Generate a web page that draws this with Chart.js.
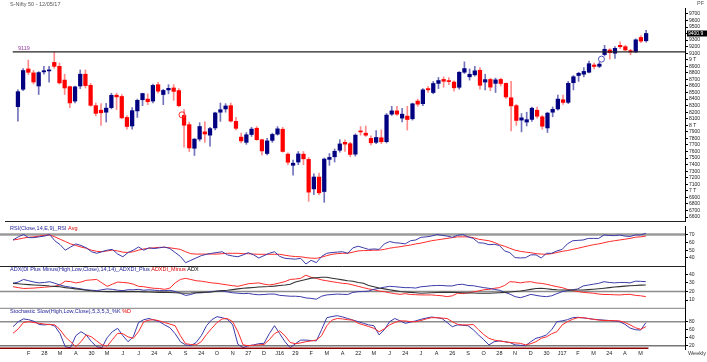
<!DOCTYPE html>
<html>
<head>
<meta charset="utf-8">
<title>Nifty 50 weekly</title>
<script src="https://cdn.jsdelivr.net/npm/chart.js@4.4.1/dist/chart.umd.min.js"></script>
<style>
  body { margin: 0; background: #fff; width: 707px; height: 362px; overflow: hidden; position: relative; }
  .panel { position: absolute; left: 0; width: 707px; }
</style>
</head>
<body>
<div class="panel" style="top:0;height:226px"><canvas id="priceChart"></canvas></div>
<div class="panel" style="top:226px;height:41px"><canvas id="rsiChart"></canvas></div>
<div class="panel" style="top:267px;height:42px"><canvas id="adxChart"></canvas></div>
<div class="panel" style="top:309px;height:53px"><canvas id="stochChart"></canvas></div>
<script>
// Weekly candles, Jan 2015 - 12 May 2017 (one entry per week)
const opens = [
  8285, 8550, 8860, 8800, 8600, 8815, 8830, 8960, 8900, 8690,
  8590, 8370, 8600, 8780, 8610, 8300, 8230, 8200, 8270, 8460,
  8440, 8120, 7990, 8220, 8390, 8400, 8370, 8620, 8470, 8540,
  8570, 8530, 8150, 8010, 7650, 7790, 7900, 7850, 7960, 8200,
  8250, 8300, 8060, 7820, 7740, 7860, 7955, 7780, 7570, 7770,
  7865, 7940, 7560, 7390, 7440, 7560, 7480, 7030, 7210, 6990,
  7480, 7520, 7620, 7740, 7720, 7560, 7910, 7880, 7800, 7740,
  7810, 7750, 8170, 8220, 8110, 8140, 8100, 8370, 8330, 8560,
  8500, 8640, 8700, 8680, 8660, 8580, 8810, 8740, 8770, 8840,
  8660, 8700, 8640, 8700, 8640, 8420, 8300, 8080, 8050, 8090,
  8230, 8130, 7960, 8200, 8250, 8390, 8350, 8650, 8760, 8780,
  8810, 8920, 8900, 9080, 9150, 9100, 9220, 9200, 9140, 9120,
  9340, 9290
];
const highs = [
  8540, 8866, 8996, 8840, 8820, 8900, 8900, 9119, 8950, 8780,
  8600, 8600, 8845, 8845, 8640, 8340, 8330, 8335, 8490, 8490,
  8470, 8150, 8270, 8400, 8490, 8480, 8630, 8655, 8550, 8620,
  8620, 8560, 8240, 8050, 7800, 8040, 8055, 7970, 8200, 8340,
  8330, 8340, 8120, 7880, 7890, 7970, 7980, 7790, 7800, 7880,
  7980, 7970, 7580, 7470, 7600, 7600, 7510, 7260, 7270, 7500,
  7570, 7640, 7780, 7780, 7740, 7870, 7980, 7990, 7840, 7920,
  7930, 8180, 8290, 8290, 8260, 8290, 8340, 8400, 8560, 8590,
  8670, 8730, 8740, 8730, 8680, 8820, 8968, 8860, 8900, 8880,
  8780, 8720, 8720, 8720, 8650, 8670, 8320, 8180, 8200, 8280,
  8280, 8150, 8200, 8280, 8460, 8460, 8670, 8760, 8810, 8880,
  8980, 8950, 8960, 9220, 9170, 9200, 9273, 9220, 9160, 9320,
  9370, 9450
];
const lows = [
  8065, 8530, 8775, 8630, 8470, 8780, 8660, 8870, 8630, 8470,
  8270, 8340, 8560, 8570, 8290, 8145, 7997, 8050, 8250, 8240,
  8100, 7940, 7940, 8120, 8300, 8315, 8340, 8490, 8315, 8480,
  8380, 8280, 7667, 7600, 7540, 7760, 7740, 7680, 7930, 8060,
  8200, 8050, 7930, 7730, 7710, 7830, 7770, 7550, 7550, 7740,
  7850, 7590, 7400, 7240, 7400, 7400, 6840, 6940, 6940, 6825,
  7390, 7440, 7590, 7600, 7520, 7530, 7850, 7830, 7700, 7720,
  7720, 7730, 8150, 8150, 8050, 7927, 8080, 8290, 8300, 8500,
  8480, 8560, 8580, 8620, 8520, 8550, 8790, 8690, 8750, 8550,
  8540, 8530, 8500, 8600, 8410, 7916, 8000, 7900, 7990, 8060,
  8110, 7940, 7890, 8130, 8230, 8320, 8330, 8540, 8670, 8740,
  8800, 8860, 8880, 9060, 9010, 9020, 9170, 9140, 9075, 9110,
  9260, 9270
];
const closes = [
  8513, 8836, 8809, 8661, 8805, 8833, 8844, 8900, 8647, 8570,
  8342, 8586, 8780, 8606, 8305, 8182, 8191, 8262, 8458, 8434,
  8114, 7982, 8224, 8381, 8485, 8360, 8609, 8521, 8532, 8564,
  8518, 8300, 8001, 7655, 7789, 7982, 7868, 7950, 8189, 8238,
  8295, 8065, 7954, 7762, 7856, 7942, 7781, 7610, 7762, 7861,
  7946, 7601, 7437, 7422, 7563, 7489, 6981, 7211, 6970, 7485,
  7510, 7604, 7716, 7713, 7555, 7850, 7899, 7849, 7733, 7814,
  7749, 8156, 8220, 8170, 8170, 8089, 8328, 8323, 8541, 8541,
  8638, 8683, 8672, 8667, 8572, 8809, 8866, 8779, 8831, 8611,
  8697, 8583, 8693, 8638, 8433, 8297, 8074, 8114, 8086, 8261,
  8139, 7986, 8186, 8244, 8400, 8349, 8641, 8741, 8794, 8822,
  8940, 8898, 8934, 9160, 9108, 9174, 9198, 9150, 9119, 9304,
  9285, 9400.9
];

// RSI(14) and its average
const rsi = [
  63, 67, 70, 66, 66, 67, 68, 70, 62, 57,
  50, 54, 58, 56, 53, 48, 46, 48, 50, 51,
  45, 41.6, 47, 50, 54, 50, 53, 52, 53, 54,
  52, 47, 42, 34, 37, 40, 43, 44.7, 46, 47,
  48, 44, 42.5, 41.6, 44, 46.8, 44, 40, 43, 46,
  48, 42, 39.6, 39, 38.5, 39.6, 32.3, 37, 34, 42,
  46, 47, 47.5, 48, 46, 53, 55, 53, 51, 51.5,
  51, 58, 61, 59.5, 59, 58, 62, 63, 66.4, 67,
  68, 70, 69, 68, 66.4, 69, 70, 67, 65, 59.5,
  59, 57, 57.5, 56, 49, 46.8, 40.5, 40, 40.4, 44,
  44, 40, 46, 46, 49, 51, 58, 62, 62.5, 63,
  65, 65, 65, 69.4, 68.8, 68.5, 69.4, 68, 67.5, 69.4,
  69.4, 71.5
];
const rsiAvg = [
  63, 64, 65.5, 66.4, 67, 68, 69, 69.4, 67, 64,
  61, 58, 56, 54, 52.4, 50, 48.5, 48, 49, 50,
  49, 47.5, 47, 48, 50, 51.5, 52.4, 53, 53.6, 53.6,
  53, 52, 51, 48, 45.5, 45, 45, 45, 45, 45,
  45.5, 46, 46, 46, 45.5, 45.5, 45, 44.7, 44.7, 44.7,
  44.7, 44.7, 43.5, 42.5, 41.8, 41.6, 40.5, 39.8, 39.6, 41,
  43, 44.7, 45.5, 46, 46, 47.5, 49, 49.5, 49.5, 50,
  50, 51, 52.5, 53.5, 54.4, 55.5, 56.5, 58, 59, 60.5,
  62, 63, 64, 65, 66, 67, 67, 67, 66, 64,
  63, 62, 60, 57, 55, 52.4, 50, 48.5, 47.5, 46.8,
  45.5, 45, 44.7, 45.5, 47, 48.5, 49.5, 51, 52.4, 54,
  55.5, 57, 58, 59.5, 61, 62, 63, 64, 65, 66.5,
  67, 68
];

// ADX(14,14): DI+, DI-, ADX
const diPlus = [
  29.5, 31, 34, 32.5, 31, 30, 30.5, 31.4, 29.5, 27.5,
  26, 25, 24, 23, 22, 21.5, 21, 22, 23, 22.5,
  21.5, 21, 22, 22, 22.5, 21.5, 22, 21.5, 21, 21,
  21.4, 20, 18, 15.4, 16.5, 18.5, 18.5, 19, 20, 20.5,
  20.5, 19.5, 18.5, 18, 17.5, 17.8, 16.7, 16.2, 16.5, 17,
  17, 15.5, 15, 14.5, 14.5, 14, 12.5, 12, 11, 14.5,
  16, 16.5, 17, 16.7, 16.5, 19, 19.8, 20, 20.5, 22.5,
  23.7, 25, 26, 25.6, 25, 24.5, 24.5, 24, 25.5, 26,
  26.7, 27, 27, 26.5, 26.5, 28, 28.4, 27, 26.7, 25.6,
  24.5, 23.7, 22.5, 21.5, 19, 17, 14, 12.8, 14.5, 16.7,
  15.5, 14.5, 14, 15, 17.5, 19.8, 21, 22, 23, 26.4,
  27.5, 28.5, 29.5, 31.4, 30.5, 30, 30.5, 30.5, 30, 32,
  31.8, 31.4
];
const diMinus = [
  25.6, 24.5, 23.5, 23.7, 24, 24.5, 25, 25.5, 26, 28,
  32, 31.5, 30, 31, 33, 33.5, 34, 30, 26, 28.5,
  31, 30.5, 30, 28.5, 26, 25.6, 24.5, 23.7, 23.5, 22.5,
  24, 30, 34, 35.3, 34, 32.5, 32, 31, 30, 29.5,
  28.5, 27.6, 26.8, 26, 27.5, 29, 29.5, 30, 28.5, 27.6,
  28.5, 30, 31.5, 34, 34.5, 35.3, 39, 36.5, 35.3, 33.5,
  32.5, 31.4, 30.5, 29.5, 29, 27.6, 26, 24.5, 23, 22,
  20.5, 19.8, 18.5, 17.5, 16.7, 17.5, 16.5, 16.3, 16, 16,
  16, 15.5, 15, 14, 15, 18, 17.5, 18.5, 19.5, 20.6,
  22, 22.5, 23.7, 24.5, 27, 31.4, 31, 30, 31, 31.4,
  30, 29.5, 28.4, 27, 25.6, 24.5, 22.5, 21, 20, 19,
  18.5, 18, 17, 16.5, 16.5, 16.2, 16, 16.5, 16.7, 15.5,
  15, 14
];
const adx = [
  29.5, 29, 28.5, 28, 27.6, 27.3, 27, 26.4, 26, 25.5,
  24.5, 23.7, 23, 22.3, 21.5, 20.8, 20.3, 20, 19.8, 19.8,
  19.8, 19.8, 19.8, 19.8, 19.8, 19.6, 19.4, 19.2, 19, 19,
  18.8, 18.5, 18.2, 18, 18.2, 18.6, 19, 19.2, 19.5, 20.3,
  21, 21.4, 22.2, 23, 23.7, 24.2, 24.7, 25.2, 25.6, 25.8,
  26.3, 27, 27.6, 28.5, 31, 32.5, 34, 35.5, 36, 36.5,
  36.5, 35.5, 34.5, 33.5, 32.5, 32, 30.5, 29.5, 27, 25.5,
  24, 23, 22, 21, 20, 19.5, 19, 18.5, 18, 18.2,
  18.5, 18.8, 19, 19, 19, 18.8, 18.5, 18.3, 18.2, 18,
  18, 18, 18.3, 18.6, 19, 19.5, 20, 20.6, 21.5, 22.5,
  23.5, 23.7, 23.2, 22.5, 22, 21.7, 21.7, 21.7, 21.7, 21.7,
  22.2, 22.7, 23.2, 23.8, 24.5, 25.2, 25.7, 26.2, 26.6, 27,
  27.4, 27.6
];

// Stochastic slow (5,3,5,3): %K and %D
const stochK = [
  67.5, 80, 87, 85, 81, 73, 72, 73.5, 69, 50,
  17, 15, 45, 55, 47, 30, 17.5, 15, 40, 55,
  63.5, 45, 30, 42.5, 78, 85, 88, 84, 80, 72,
  65, 50, 30, 22, 20, 28, 45, 70, 85, 92.5,
  90, 86, 72, 23.5, 15, 20, 22, 25, 26, 50,
  70, 50, 30, 15, 25, 34, 34, 33, 32, 60,
  90, 93, 95, 92, 88, 84, 80, 76, 72, 70,
  47, 60, 80, 88, 82, 76, 79, 82, 86, 89,
  91.7, 90, 88, 78, 67.5, 72, 71, 70, 60, 47,
  35, 22, 30, 32, 30, 28, 22, 21, 20, 30,
  38.5, 42, 47, 60, 80, 82, 85, 90, 91, 89.5,
  88, 86, 85, 84, 83, 82, 80, 73.5, 64, 60,
  59, 77.5
];
const stochD = [
  51, 62, 78, 80, 78, 76, 74, 73, 72, 60,
  42, 30, 17.5, 30, 47, 42, 32, 22, 19, 35,
  51, 50, 42, 38.5, 55, 80, 84, 85, 82, 78,
  74, 70, 45, 25, 23, 22, 30, 48, 63.5, 78,
  87, 88, 80, 55, 22, 20, 21, 22, 23, 35,
  50, 57, 45, 28, 25, 27, 30, 32, 34, 45,
  70, 84, 88, 87, 85, 84, 76, 72, 68, 63.5,
  55, 62, 72, 78, 82, 82, 80, 80, 83, 87,
  90, 90, 89, 88, 80, 73.5, 72, 72, 73, 60,
  48, 38.5, 34, 32, 30, 28, 27, 26, 22, 25,
  30, 38.5, 42, 50, 55, 72, 80, 86, 90, 90,
  88, 86, 84, 83, 83, 82.5, 82, 78, 72, 65,
  61, 67.5
];

// axis ticks
const priceTicks = [9700, 9600, 9500, 9400, 9300, 9200, 9100, 9000, 8900, 8800, 8700, 8600, 8500, 8400, 8300, 8200,
  8100, 8000, 7900, 7800, 7700, 7600, 7500, 7400, 7300, 7200, 7100, 7000, 6900, 6800, 6700, 6600];
const rsiTicks = [70, 60, 50, 40];
const adxTicks = [40, 30, 20, 10];
const stochTicks = [80, 60, 40, 20];
const xLabelWeeks = [3, 6, 9, 12, 15, 18, 21, 24, 27, 30, 33, 36, 39, 42, 45, 48, 51, 54, 57, 60,
  63, 66, 69, 72, 75, 78, 81, 84, 87, 90, 93, 96, 99, 102, 105, 108, 111, 114, 117, 120];
const xLabels = ["F", "28", "M", "A", "30", "M", "J", "J", "24", "A", "S", "24", "O", "N", "27", "D", "J16", "29", "F", "M",
  "A", "22", "M", "J", "24", "J", "A", "26", "S", "O", "28", "N", "D", "30", "J17", "F", "M", "24", "A", "M"];

const resistance = 9119;
const markerWeeks = [31.6, 112.4];
const markerPrices = [8160, 9010];

const FONT = '"Liberation Sans", Arial, sans-serif';
const UP = "#000080";
const DOWN = "#ff0000";
const BLUE_LINE = "#3b3baa";
const RED_LINE = "#ff2b2b";
const xMin = -2.49;
const xMax = 128.49;
const axisWidth = 22;

function xAxis(show) {
  const axis = {
    type: "linear",
    min: xMin,
    max: xMax,
    offset: false,
    display: show,
    grid: { display: false, drawTicks: false },
    border: { display: false },
  };
  if (!show) return axis;
  return {
    ...axis,
    afterFit: (s) => {
      s.height = 13;
      s.paddingLeft = 0;
      s.paddingRight = 0;
    },
    afterBuildTicks: (s) => {
      s.ticks = xLabelWeeks.map((v) => ({ value: v }));
    },
    ticks: {
      autoSkip: false,
      maxRotation: 0,
      padding: 1,
      color: "#222",
      font: { size: 5.5, family: FONT },
      callback: (v) => xLabels[xLabelWeeks.indexOf(v)],
    },
  };
}

function yAxis(min, max, values, fmt) {
  return {
    position: "right",
    min: min,
    max: max,
    afterFit: (s) => {
      s.width = axisWidth;
      s.paddingTop = 0;
      s.paddingBottom = 0;
    },
    afterBuildTicks: (s) => {
      s.ticks = values.map((v) => ({ value: v }));
    },
    grid: { drawOnChartArea: false, color: "#000", tickLength: 3 },
    border: { display: true, color: "#000", width: 1 },
    ticks: {
      autoSkip: false,
      padding: 1,
      color: "#222",
      font: { size: 5, family: FONT },
      callback: fmt || ((v) => v),
    },
  };
}

function series(values) {
  return values.map((v, i) => ({ x: i, y: v }));
}

function lineSet(values, color, width) {
  return {
    type: "line",
    data: series(values),
    borderColor: color,
    borderWidth: width || 1,
    pointRadius: 0,
    tension: 0,
  };
}

function drawHeader(ctx, parts, x, y) {
  ctx.save();
  ctx.font = "5.5px " + FONT;
  ctx.textBaseline = "middle";
  let cx = x;
  parts.forEach((p) => {
    ctx.fillStyle = p.color;
    ctx.fillText(p.text, cx, y);
    cx += ctx.measureText(p.text + " ").width;
  });
  ctx.restore();
}

function hLine(ctx, x1, x2, y, color, width) {
  ctx.save();
  ctx.strokeStyle = color;
  ctx.lineWidth = width;
  ctx.beginPath();
  ctx.moveTo(x1, y);
  ctx.lineTo(x2, y);
  ctx.stroke();
  ctx.restore();
}

// reference levels under the lines, header and separator on top
function panelPlugin(levels, header, separator) {
  return {
    id: "panelDecor",
    beforeDatasetsDraw(chart) {
      const { ctx, chartArea: a, scales } = chart;
      levels.forEach((l) => {
        hLine(ctx, a.left, a.right, scales.y.getPixelForValue(l.value), l.color, l.width);
      });
    },
    afterDraw(chart) {
      const { ctx, chartArea: a } = chart;
      if (header) drawHeader(ctx, header, 10, a.top + 2.5);
      if (separator) hLine(ctx, a.left, a.right, a.bottom + 0.5, "#222", 1);
    },
  };
}

const baseOptions = {
  responsive: true,
  maintainAspectRatio: false,
  animation: false,
  events: [],
  plugins: { legend: { display: false }, tooltip: { enabled: false } },
};

// ---- price panel ----
const candleColors = closes.map((c, i) => (c >= opens[i] ? UP : DOWN));
const wickColors = closes.map((c, i) => (c >= opens[i] ? "rgba(40,40,150,0.65)" : "rgba(255,60,60,0.6)"));

new Chart(document.getElementById("priceChart"), {
  type: "bar",
  data: {
    datasets: [
      {
        data: lows.map((l, i) => ({ x: i, y: [l, highs[i]] })),
        backgroundColor: wickColors,
        barThickness: 1,
        grouped: false,
        order: 3,
      },
      {
        data: opens.map((o, i) => ({ x: i, y: [o, closes[i]] })),
        backgroundColor: candleColors,
        barThickness: 3.6,
        minBarLength: 1,
        grouped: false,
        order: 2,
      },
      {
        type: "line",
        data: [{ x: -1, y: resistance }, { x: xMax, y: resistance }],
        borderColor: "#222",
        borderWidth: 1.3,
        pointRadius: 0,
        order: 1,
      },
      {
        type: "line",
        data: markerWeeks.map((w, i) => ({ x: w, y: markerPrices[i] })),
        showLine: false,
        pointStyle: "circle",
        pointRadius: 3,
        pointBorderWidth: 1,
        pointBackgroundColor: "rgba(0,0,0,0)",
        pointBorderColor: ["#ff3030", "#5050c0"],
        order: 0,
      },
    ],
  },
  options: {
    ...baseOptions,
    layout: { padding: { top: 8, bottom: 1, left: 0, right: 0 } },
    scales: {
      x: xAxis(false),
      y: yAxis(6540.1, 9789.9, priceTicks, (v) => (v % 1000 === 0 ? v / 1000 + " T" : v)),
    },
  },
  plugins: [
    {
      id: "priceDecor",
      afterDraw(chart) {
        const { ctx, chartArea: a, scales } = chart;
        ctx.save();
        ctx.font = "5.5px " + FONT;
        ctx.textBaseline = "middle";
        ctx.fillStyle = "#555";
        ctx.fillText("S-Nifty 50 - 12/05/17", 10, 4);
        ctx.fillText("PF", 697, 3);
        ctx.fillStyle = "#9a3aa8";
        ctx.fillText("9119", 18, scales.y.getPixelForValue(resistance) - 3);
        // last price box
        const last = closes[closes.length - 1];
        const py = scales.y.getPixelForValue(last);
        ctx.fillStyle = "#000";
        ctx.fillRect(a.right + 2, py - 3, 20, 6);
        ctx.fillStyle = "#fff";
        ctx.font = "5px " + FONT;
        ctx.fillText(last.toFixed(1), a.right + 3, py);
        ctx.restore();
        hLine(ctx, a.left, a.right, a.bottom + 0.5, "#222", 1);
      },
    },
  ],
});

// ---- RSI panel ----
new Chart(document.getElementById("rsiChart"), {
  type: "line",
  data: { datasets: [lineSet(rsi, BLUE_LINE), lineSet(rsiAvg, RED_LINE)] },
  options: {
    ...baseOptions,
    layout: { padding: { top: 0, bottom: 1, left: 0, right: 0 } },
    scales: { x: xAxis(false), y: yAxis(29.77, 80.85, rsiTicks) },
  },
  plugins: [
    panelPlugin(
      [{ value: 70, color: "#9a9a9a", width: 2.5 }],
      [{ text: "RSI(Close,14,E,9)_RSI", color: "#1f1f99" }, { text: "Avg", color: "#e00000" }],
      true
    ),
  ],
});

// ---- ADX panel ----
new Chart(document.getElementById("adxChart"), {
  type: "line",
  data: {
    datasets: [lineSet(adx, "#333", 1.1), lineSet(diPlus, BLUE_LINE), lineSet(diMinus, RED_LINE)],
  },
  options: {
    ...baseOptions,
    layout: { padding: 0 },
    scales: { x: xAxis(false), y: yAxis(-0.36, 48.49, adxTicks) },
  },
  plugins: [
    panelPlugin(
      [
        { value: 20, color: "#8c8c8c", width: 1.5 },
        { value: 0, color: "#999", width: 2 },
      ],
      [
        { text: "ADX(DI Plus Minus(High,Low,Close),14,14)_ADXDI_Plus", color: "#1f1f99" },
        { text: "ADXDI_Minus", color: "#e00000" },
        { text: "ADX", color: "#000" },
      ],
      false
    ),
  ],
});

// ---- Stochastic panel ----
new Chart(document.getElementById("stochChart"), {
  type: "line",
  data: { datasets: [lineSet(stochD, RED_LINE), lineSet(stochK, BLUE_LINE)] },
  options: {
    ...baseOptions,
    layout: { padding: 0 },
    scales: { x: xAxis(true), y: yAxis(11.75, 111.75, stochTicks) },
  },
  plugins: [
    panelPlugin(
      [
        { value: 80, color: "#8c8c8c", width: 1.5 },
        { value: 20, color: "#777", width: 1.5 },
      ],
      [{ text: "Stochastic Slow(High,Low,Close),5,3,5,3_%K", color: "#1f1f99" }, { text: "%D", color: "#e00000" }],
      false
    ),
    {
      id: "stochBottom",
      afterDraw(chart) {
        const { ctx, chartArea: a, scales } = chart;
        hLine(ctx, a.left, scales.x.getPixelForValue(closes.length - 0.5), a.bottom - 0.7, "#8b0000", 1.6);
        ctx.save();
        ctx.font = "5.5px " + FONT;
        ctx.fillStyle = "#333";
        ctx.textBaseline = "middle";
        ctx.fillText("Weekly", a.right + 3, a.bottom + 4);
        ctx.restore();
      },
    },
  ],
});
</script>
</body>
</html>
